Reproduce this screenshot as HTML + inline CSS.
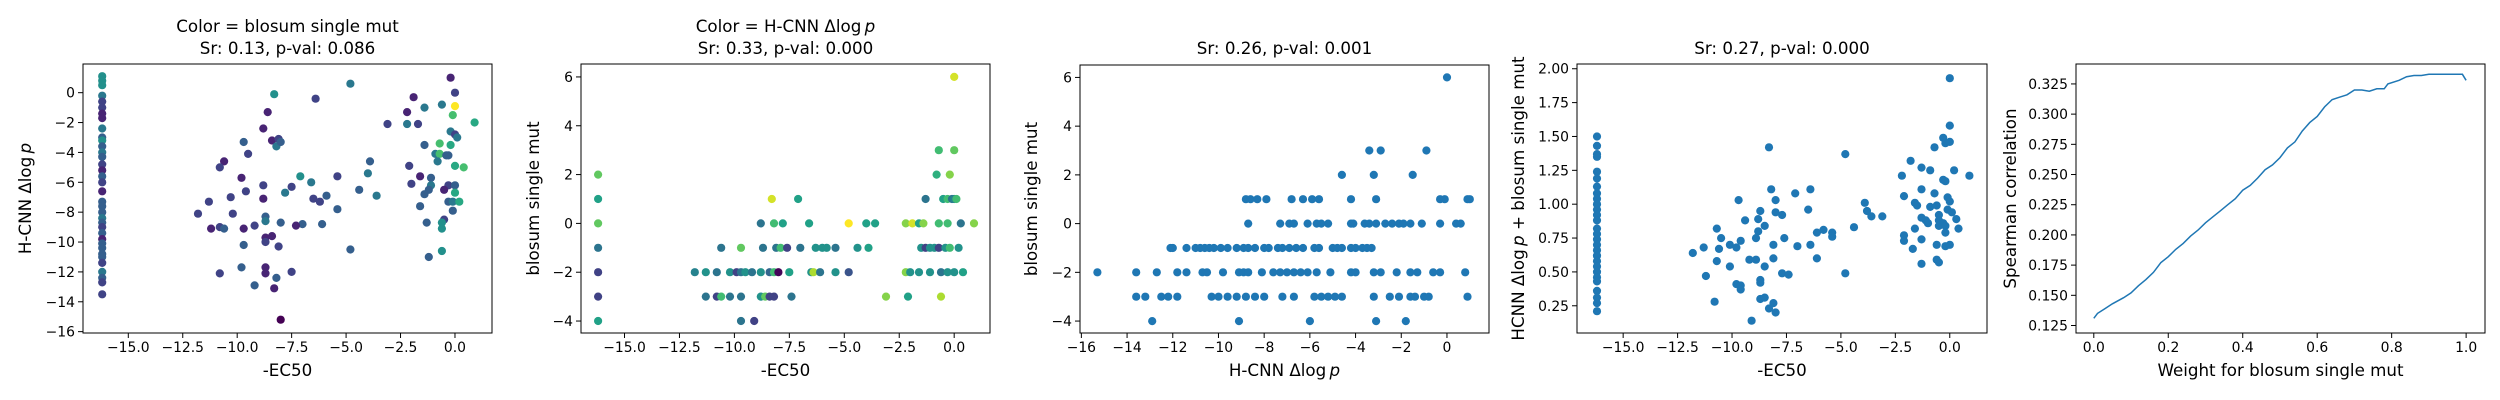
<!DOCTYPE html>
<html><head><meta charset="utf-8"><style>
html,body{margin:0;padding:0;background:#fff;}
svg{display:block;font-family:"DejaVu Sans","Liberation Sans",sans-serif;}
</style></head><body>
<svg id="fig" width="2500" height="400" viewBox="0 0 2500 400" xmlns="http://www.w3.org/2000/svg"></svg>
<script>
// ---------- Panel 1 data: x=-EC50, y=H-CNN dlogp, c=blosum ----------
const p1x = [-16.2,-16.2,-16.2,-16.2,-16.2,-16.2,-16.2,-16.2,-16.2,-16.2,-16.2,-16.2,-16.2,-16.2,-16.2,-16.2,-16.2,-16.2,-16.2,-16.2,-16.2,-16.2,-16.2,-16.2,-16.2,-16.2,-16.2,-16.2,-16.2,-16.2,-16.2,-16.2,-16.2,-16.2,-16.2,-16.2,
-4.8,-8.3,-6.4,-8.6,-8.8,-9.7,-9.5,-8.4,-8.1,-8.2,-8.0,-10.6,-10.8,-9.8,-9.6,-10.3,-8.8,-8.8,-7.1,-6.6,-7.5,-7.8,-5.4,-3.9,-4.0,-4.4,-3.6,-6.5,-6.2,-5.9,-5.4,-11.3,-11.8,-10.2,-11.2,-10.8,-10.6,-9.7,-9.2,-8.7,-8.7,-8.0,-7.0,-7.3,-6.1,-9.7,-8.7,-8.7,-8.4,-8.1,-4.8,-9.8,-10.8,-8.7,-8.7,-7.5,-8.2,-9.2,-8.3,-8.0,-3.1,
-0.2,0.0,-1.9,-0.6,0.0,-1.4,-2.2,-0.1,-2.2,-1.7,0.9,-0.2,0.0,0.1,-1.4,-0.7,-0.2,-0.9,-0.7,-0.4,-0.3,-0.8,-2.1,0.0,0.4,-1.6,-1.1,-2.0,-1.1,-1.2,-0.3,0.0,-0.5,-1.4,0.0,-0.3,-0.1,0.2,-1.6,-0.1,-1.3,-0.5,-0.6,-0.6,-0.6,-1.2];
const p1y = [1.1,0.8,0.5,-0.2,-0.6,-1.0,-1.4,-1.7,-2.4,-3.0,-3.2,-3.6,-4.0,-4.3,-4.8,-5.2,-5.6,-6.0,-6.6,-7.3,-7.6,-8.0,-8.4,-8.7,-9.0,-9.4,-9.8,-10.1,-10.4,-10.8,-11.0,-11.4,-12.0,-12.4,-12.7,-13.5,
0.6,-0.1,-0.4,-1.3,-2.4,-3.3,-4.1,-3.2,-3.1,-3.6,-3.3,-4.6,-5.0,-5.7,-6.6,-7.0,-6.2,-7.1,-5.6,-6.0,-6.3,-6.7,-5.6,-4.6,-5.4,-6.5,-6.9,-7.1,-7.3,-6.9,-7.8,-7.3,-8.1,-8.1,-9.1,-9.0,-9.1,-9.1,-8.9,-8.3,-8.6,-8.7,-8.8,-8.9,-8.8,-10.2,-9.7,-10.0,-9.6,-10.3,-10.5,-11.7,-12.1,-11.7,-12.1,-12.0,-12.4,-12.9,-13.1,-15.2,-2.1,
1.0,0.0,-0.3,-0.8,-0.9,-1.0,-1.3,-1.5,-2.1,-2.1,-2.0,-2.6,-2.8,-3.0,-3.5,-3.4,-3.5,-4.1,-4.1,-4.2,-4.2,-4.6,-4.9,-4.9,-5.0,-5.6,-5.7,-6.1,-6.2,-6.5,-6.2,-6.2,-6.5,-6.8,-6.7,-7.3,-7.3,-7.3,-7.6,-7.9,-8.7,-8.5,-8.7,-9.1,-10.6,-11.0];
const p1c = [1,1,1,0,-2,-2,-3,-3,0,-1,1,-1,0,-1,-2,-3,-1,-2,-3,-1,-1,-1,0,-1,-2,-1,-3,-1,-1,-1,-1,-2,0,-1,-2,-2,
0,1,-2,-3,-3,-1,-2,-3,-2,0,-1,-3,-2,-3,-2,-2,-2,-3,1,0,-2,0,-2,-1,0,-1,0,-2,-2,-1,-1,-2,-2,-2,-3,-2,-1,-3,-2,-1,0,-1,-1,-3,-1,-1,-3,-2,-3,-2,-1,-1,-2,-3,-3,-2,-1,-1,-3,-4,-2,-3,-2,-3,
0,6,0,-3,3,0,-2,2,0,-2,0,-1,3,2,0,3,-1,-1,0,-2,2,3,-3,-1,-2,0,-1,-2,-1,-3,-1,2,-1,0,2,-1,-1,-1,-2,1,1,1,-1,-2,-1,-1];

// ---------- Panel 2 data: x=-EC50, y=blosum, c=H-CNN ----------
const p2x = [-16.2,-16.2,-16.2,-16.2,-16.2,-16.2,-16.2,
-8.3,-7.1,-1.3,-0.5,-0.3,-0.1,0.0,0.1,
-8.8,-8.2,-7.8,-6.6,-4.8,-4.0,-3.6,-2.2,-1.9,-1.6,-1.4,-0.7,-0.3,0.3,0.9,
-10.6,-9.7,-8.7,-8.1,-7.9,-7.6,-7.0,-6.3,-6.0,-5.8,-5.4,-4.4,-3.9,-1.5,-1.3,-1.1,-0.9,-0.7,-0.4,-0.2,0.2,
-11.8,-11.3,-10.8,-10.2,-9.9,-9.7,-9.5,-9.2,-8.8,-8.4,-8.2,-8.0,-7.5,-6.5,-6.4,-6.1,-5.4,-4.8,-2.2,-2.0,-1.6,-1.1,-0.6,-0.3,0.0,0.4,
-11.3,-10.8,-10.6,-10.2,-9.7,-8.8,-8.6,-8.4,-8.2,-7.4,-3.1,-2.1,-0.6,
-9.7,-9.1,-0.8,-0.2,-0.7,0.0,0.0];
const p2y = [2,1,0,-1,-2,-3,-4,
1,1,1,1,1,1,1,1,
0,0,0,0,0,0,0,0,0,0,0,0,0,0,0,
-1,-1,-1,-1,-1,-1,-1,-1,-1,-1,-1,-1,-1,-1,-1,-1,-1,-1,-1,-1,-1,
-2,-2,-2,-2,-2,-2,-2,-2,-2,-2,-2,-2,-2,-2,-2,-2,-2,-2,-2,-2,-2,-2,-2,-2,-2,-2,
-3,-3,-3,-3,-3,-3,-3,-3,-3,-3,-3,-3,-3,
-4,-4,2,2,3,3,6];
const p2c = [-3,-6,-3,-9,-12,-12,-6,
0,-6,-9,-6,-4,-9,-8,-4,
-9,-4,-6,-6,1,-6,-6,-2,0,-6,-2,-4,-4,-9,-2,
-9,-3,-9,-9,-4,-12,-9,-7,-7,-7,-9,-7,-6,-7,-12,-7,-7,-12,-7,-4,-7,
-8,-7,-9,-7,-12,-9,-7,-9,-7,-10,-4,-15,-6,-7,-1,-9,-7,-11,-2,-7,-7,-7,-9,-7,-7,-6,
-9,-12,-4,-9,-9,-7,-3,-12,-12,-9,-2,-6,-1,
-9,-12,-5,-2,-4,-3,0];

// ---------- Panel 3 data: x=H-CNN dlogp, y=blosum ----------
const p3x = [0.0,-3.4,-2.9,-0.9,-4.6,-3.2,-1.5,
-8.8,-8.6,-8.3,-7.9,-6.8,-6.3,-5.9,-5.6,-4.2,-3.1,-0.3,-0.1,0.9,1.0,
-8.7,-7.3,-6.9,-6.7,-6.1,-5.7,-5.5,-5.2,-4.2,-4.1,-3.6,-3.4,-3.1,-2.7,-2.4,-2.1,-1.9,-1.6,-1.1,-0.3,0.4,0.6,
-12.1,-12.0,-11.4,-11.0,-10.8,-10.6,-10.4,-10.2,-9.9,-9.6,-9.2,-8.9,-8.7,-8.4,-8.0,-7.8,-7.4,-7.2,-6.9,-6.6,-6.3,-5.8,-5.6,-5.0,-4.8,-4.6,-4.2,-4.0,-3.7,-3.5,-3.3,
-15.3,-13.6,-12.7,-11.8,-11.4,-10.7,-10.5,-9.8,-9.1,-8.9,-8.7,-8.1,-7.6,-7.3,-7.0,-6.7,-6.4,-6.1,-5.7,-5.1,-4.2,-4.0,-3.2,-2.9,-2.2,-1.6,-1.3,-0.6,-0.3,0.8,
-13.6,-13.2,-12.5,-12.2,-11.8,-10.3,-10.0,-9.6,-9.2,-8.8,-8.4,-8.0,-7.2,-6.7,-5.8,-5.5,-5.2,-4.9,-4.6,-3.2,-2.5,-2.1,-1.6,-1.4,-1.0,-0.8,0.9,
-12.9,-9.1,-6.0,-3.1,-1.8];
const p3y = [6,3,3,3,2,2,2,
1,1,1,1,1,1,1,1,1,1,1,1,1,1,
0,0,0,0,0,0,0,0,0,0,0,0,0,0,0,0,0,0,0,0,0,0,
-1,-1,-1,-1,-1,-1,-1,-1,-1,-1,-1,-1,-1,-1,-1,-1,-1,-1,-1,-1,-1,-1,-1,-1,-1,-1,-1,-1,-1,-1,-1,
-2,-2,-2,-2,-2,-2,-2,-2,-2,-2,-2,-2,-2,-2,-2,-2,-2,-2,-2,-2,-2,-2,-2,-2,-2,-2,-2,-2,-2,-2,
-3,-3,-3,-3,-3,-3,-3,-3,-3,-3,-3,-3,-3,-3,-3,-3,-3,-3,-3,-3,-3,-3,-3,-3,-3,-3,-3,
-4,-4,-4,-4,-4];

// ---------- Panel 4 data: x=-EC50, y=combined score ----------
const p4x = [-16.2,-16.2,-16.2,-16.2,-16.2,-16.2,-16.2,-16.2,-16.2,-16.2,-16.2,-16.2,-16.2,-16.2,-16.2,-16.2,-16.2,-16.2,-16.2,-16.2,-16.2,-16.2,-16.2,-16.2,-16.2,-16.2,-16.2,-16.2,
-8.3,-4.8,-8.2,-9.7,-8.0,-7.1,-6.4,-8.7,-8.0,-7.7,-6.5,-9.4,-8.8,-8.5,-10.7,-10.5,-8.8,-9.6,-8.9,-10.1,-10.6,-9.8,-11.3,-11.8,-8.1,-7.6,-7.0,-6.4,-6.1,-5.8,-5.4,-5.4,-4.4,-3.9,-3.8,-3.6,-3.1,-10.7,-10.1,-9.2,-8.9,-8.1,-8.5,-11.2,-7.7,-7.4,-6.1,-4.8,-9.8,-9.6,-9.6,-8.7,-8.7,-10.8,-8.7,-8.5,-8.1,-8.3,-8.0,-9.1,
0.0,0.0,-0.3,-0.2,0.0,-0.7,-1.8,-1.3,-2.2,-0.9,0.2,0.9,-0.3,-0.2,-1.3,-0.7,-2.1,-1.6,-1.5,-0.9,-0.6,-0.1,0.0,-0.1,0.1,-0.5,-1.3,-1.1,-1.0,-0.5,-0.3,0.3,-0.5,-0.2,-1.6,0.4,-0.2,-2.1,-2.1,-1.3,-0.6,-0.2,0.0,-1.7,-1.3,-0.6,-0.5];
const p4y = [1.50,1.43,1.37,1.35,1.24,1.19,1.13,1.08,1.04,1.00,0.96,0.92,0.88,0.82,0.78,0.74,0.70,0.66,0.62,0.58,0.54,0.50,0.46,0.43,0.36,0.31,0.27,0.21,
1.42,1.37,1.11,1.03,1.03,1.08,1.11,0.95,0.94,0.92,0.96,0.88,0.89,0.84,0.82,0.75,0.80,0.73,0.75,0.70,0.67,0.68,0.68,0.64,0.70,0.75,0.69,0.70,0.79,0.81,0.79,0.76,0.83,1.01,0.95,0.91,0.91,0.58,0.54,0.59,0.59,0.60,0.54,0.47,0.49,0.48,0.60,0.49,0.41,0.40,0.37,0.44,0.42,0.28,0.30,0.31,0.27,0.23,0.20,0.14,
1.93,1.58,1.49,1.45,1.46,1.42,1.32,1.27,1.21,1.25,1.25,1.21,1.18,1.17,1.11,1.08,1.06,1.01,0.99,0.98,0.99,1.05,1.02,0.96,0.94,0.92,0.90,0.88,0.86,0.88,0.86,0.89,0.84,0.84,0.82,0.82,0.79,0.77,0.73,0.74,0.70,0.69,0.70,0.67,0.56,0.59,0.57];

// ---------- Panel 5 data: weight vs spearman ----------
const p5x = [0,0.01,0.03,0.05,0.08,0.10,0.12,0.14,0.16,0.18,0.20,0.22,0.24,0.26,0.28,0.30,0.32,0.34,0.36,0.38,0.40,0.42,0.44,0.46,0.48,0.50,0.52,0.54,0.56,0.58,0.60,0.62,0.64,0.66,0.68,0.70,0.72,0.74,0.76,0.78,0.79,0.82,0.84,0.86,0.88,0.90,0.95,0.99,1.0];
const p5y = [0.131,0.135,0.139,0.143,0.148,0.152,0.158,0.163,0.169,0.177,0.182,0.188,0.193,0.199,0.204,0.210,0.215,0.220,0.225,0.230,0.237,0.241,0.247,0.254,0.258,0.264,0.272,0.277,0.286,0.293,0.298,0.306,0.312,0.314,0.316,0.320,0.320,0.319,0.321,0.321,0.325,0.328,0.331,0.332,0.332,0.333,0.333,0.333,0.328];

// tick arrays
const ecTicks = [-15,-12.5,-10,-7.5,-5,-2.5,0];
const p1yTicks = [0,-2,-4,-6,-8,-10,-12,-14,-16];
const blosumTicks = [6,4,2,0,-2,-4];
const p3xTicks = [-16,-14,-12,-10,-8,-6,-4,-2,0];
const p4yTicks = [2.0,1.75,1.5,1.25,1.0,0.75,0.5,0.25];
const p5xTicks = [0,0.2,0.4,0.6,0.8,1.0];
const p5yTicks = [0.325,0.3,0.275,0.25,0.225,0.2,0.175,0.15,0.125];

const NS = "http://www.w3.org/2000/svg";
const svg = document.getElementById('fig');
function mk(tag, attrs, parent){ const e=document.createElementNS(NS,tag); for(const k in attrs) e.setAttribute(k,attrs[k]); (parent||svg).appendChild(e); return e; }
function fmt(v,d){ const s=Math.abs(v).toFixed(d); return (v<0?"\u2212":"")+s; }

const VIR=[[68,1,84],[72,40,120],[62,74,137],[49,104,142],[38,130,142],[31,158,137],[53,183,121],[109,205,89],[180,222,44],[253,231,37]];
function viridis(t){ t=Math.max(0,Math.min(1,t)); const f=t*(VIR.length-1); const i=Math.min(Math.floor(f),VIR.length-2); const r=f-i;
  const c=VIR[i].map((v,k)=>Math.round(v+(VIR[i+1][k]-v)*r)); return `rgb(${c[0]},${c[1]},${c[2]})`; }

function panel(o){
  const g=mk('g',{});
  
  
  const X=v=>o.L+(v-o.xmin)/(o.xmax-o.xmin)*(o.R-o.L);
  const Y=v=>o.B-(v-o.ymin)/(o.ymax-o.ymin)*(o.B-o.T);
  // marks
  if(o.line){
    const d=o.xs.map((x,i)=>(i?'L':'M')+X(x).toFixed(1)+' '+Y(o.ys[i]).toFixed(1)).join(' ');
    const p=mk('path',{d:d,fill:'none',stroke:'#1f77b4','stroke-width':1.5},g);
    
    
  } else {
    o.xs.forEach((x,i)=>{
      const fill=o.cs?viridis((o.cs[i]-o.cmin)/(o.cmax-o.cmin)):'#1f77b4';
      const c=mk('circle',{cx:X(x).toFixed(1),cy:Y(o.ys[i]).toFixed(1),r:4.1,fill:fill},g);
      
      
    });
  }
  const fr=mk('rect',{x:o.L,y:o.T,width:o.R-o.L,height:o.B-o.T,fill:'none',stroke:'#000','stroke-width':1},g);
  
  
  o.xt.forEach(v=>{ const x=X(v);
    mk('line',{x1:x,x2:x,y1:o.B,y2:o.B+5,stroke:'#000','stroke-width':1},g);
    const t=mk('text',{x:x,y:o.B+19,'font-size':13.9,'text-anchor':'middle'},g); t.textContent=fmt(v,o.xd);
    
    
  });
  o.yt.forEach(v=>{ const y=Y(v);
    mk('line',{x1:o.L-5,x2:o.L,y1:y,y2:y,stroke:'#000','stroke-width':1},g);
    const t=mk('text',{x:o.L-8,y:y+5,'font-size':13.9,'text-anchor':'end'},g); t.textContent=fmt(v,o.yd);
    
    
  });
  const xl=mk('text',{x:(o.L+o.R)/2,y:376,'font-size':16.7,'text-anchor':'middle'},g); xl.innerHTML=o.xlabel;
  
  
  const yl=mk('text',{x:0,y:0,'font-size':16.7,'text-anchor':'middle',transform:`translate(${o.ylx},${(o.T+o.B)/2}) rotate(-90)`},g); yl.innerHTML=o.ylabel;
  
  
  o.title.forEach((s,i)=>{ const t=mk('text',{x:(o.L+o.R)/2,y:o.title.length===2?(32+i*22):54,'font-size':16.7,'text-anchor':'middle'},g); t.innerHTML=s;
    
    
  });
}
const dlp='\u0394log\u2009<tspan font-style="italic">p</tspan>';
panel({name:'panel-ec50-vs-hcnn',L:83,R:492,T:64,B:333,xmin:-17.08,xmax:1.70,ymin:-16.09,ymax:1.92,xs:p1x,ys:p1y,cs:p1c,cmin:-4,cmax:6,
  xt:ecTicks,xd:1,yt:p1yTicks,yd:0,xlabel:'-EC50',ylabel:'H-CNN '+dlp,ylx:31,title:['Color = blosum single mut','Sr: 0.13, p-val: 0.086']});
panel({name:'panel-ec50-vs-blosum',L:581,R:990,T:64,B:333,xmin:-16.98,xmax:1.63,ymin:-4.49,ymax:6.53,xs:p2x,ys:p2y,cs:p2c,cmin:-15.2,cmax:1.0,
  xt:ecTicks,xd:1,yt:blosumTicks,yd:0,xlabel:'-EC50',ylabel:'blosum single mut',ylx:539,title:['Color = H-CNN '+dlp,'Sr: 0.33, p-val: 0.000']});
panel({name:'panel-hcnn-vs-blosum',L:1080,R:1489,T:65,B:333,xmin:-16.06,xmax:1.84,ymin:-4.49,ymax:6.51,xs:p3x,ys:p3y,
  xt:p3xTicks,xd:0,yt:blosumTicks,yd:0,xlabel:'H-CNN '+dlp,ylabel:'blosum single mut',ylx:1037,title:['Sr: 0.26, p-val: 0.001']});
panel({name:'panel-ec50-vs-combined',L:1577,R:1987,T:64,B:333,xmin:-17.12,xmax:1.71,ymin:0.049,ymax:2.035,xs:p4x,ys:p4y,
  xt:ecTicks,xd:1,yt:p4yTicks,yd:2,xlabel:'-EC50',ylabel:'HCNN '+dlp+' + blosum single mut',ylx:1524,title:['Sr: 0.27, p-val: 0.000']});
panel({name:'panel-weight-vs-spearman',L:2076,R:2485,T:64,B:333,xmin:-0.0478,xmax:1.0507,ymin:0.1188,ymax:0.3415,xs:p5x,ys:p5y,line:true,
  xt:p5xTicks,xd:1,yt:p5yTicks,yd:3,xlabel:'Weight for blosum single mut',ylabel:'Spearman correlation',ylx:2016,title:[]});
</script>
</body></html>
